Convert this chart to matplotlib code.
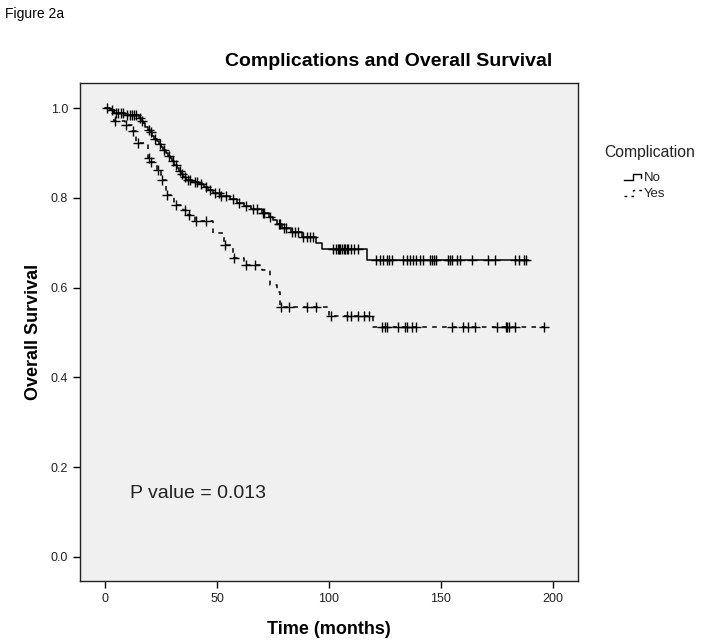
import numpy as np
import matplotlib
matplotlib.use('Agg')
import matplotlib.pyplot as plt
from matplotlib.lines import Line2D

plt.rcParams['font.family'] = ['Liberation Sans', 'DejaVu Sans']

# Kaplan-Meier steps (time in months, survival after each event)
no_event_times = [2, 4, 9, 15, 16, 17, 18, 19, 20, 21, 22, 23, 24, 25, 26, 27, 28, 29, 30,
                  31, 32, 33, 34, 35, 36, 39, 42, 44, 46, 48, 52, 56, 59, 62, 65, 70, 73,
                  75, 77, 79, 83, 88, 94, 97, 117]
no_event_surv = [0.995, 0.990, 0.985, 0.978, 0.972, 0.966, 0.958, 0.952, 0.946, 0.938,
                 0.932, 0.926, 0.920, 0.913, 0.907, 0.900, 0.894, 0.888, 0.881, 0.874,
                 0.866, 0.860, 0.853, 0.846, 0.840, 0.835, 0.830, 0.823, 0.817, 0.811,
                 0.804, 0.797, 0.789, 0.781, 0.774, 0.767, 0.758, 0.750, 0.741, 0.733,
                 0.724, 0.713, 0.700, 0.686, 0.661]
no_censor_times = [1, 3, 5, 6, 7, 8, 10, 11, 12, 13, 14, 15.5, 16.5, 19.5, 20.5, 22.5, 24.5,
                   26.5, 28.5, 30.5, 31.5, 33.5, 34.5, 35.5, 37, 38, 40, 41, 43, 45, 47, 49,
                   51, 52, 54, 57, 60, 63, 66, 68, 70.5, 71, 73.5, 77.5, 78, 80, 81, 83.5,
                   85, 86, 88.5, 90, 91.5, 93, 102, 103, 104, 104.5, 105, 106, 106.7, 107,
                   108, 108.5, 110, 111, 113, 121, 123, 124, 126, 127, 128, 133, 135, 136,
                   137.5, 139, 140.6, 142, 145, 146, 147, 148, 153, 154, 155, 157, 158.5,
                   164, 171, 174, 183, 185, 187, 188]
no_end_time = 189

yes_event_times = [4, 9, 12, 14, 19, 20, 23, 25, 27, 31, 35, 37, 40, 48, 53, 57, 62, 70,
                   73.5, 77, 78, 100, 119.5]
yes_event_surv = [0.970, 0.963, 0.948, 0.922, 0.889, 0.880, 0.862, 0.840, 0.806, 0.784,
                  0.773, 0.762, 0.749, 0.722, 0.695, 0.666, 0.650, 0.639, 0.606, 0.590,
                  0.557, 0.537, 0.512]
yes_censor_times = [4.5, 9.5, 12.5, 14.5, 19.5, 20.5, 23.5, 25.5, 27.5, 31.5, 35.5, 37.5,
                    40.5, 45, 53.5, 57.5, 63, 67, 78.5, 82, 90, 94, 101, 108, 109.8, 113,
                    115.6, 117.8, 123.7, 125, 126, 131, 134, 135, 137, 138.8, 155, 160,
                    162, 165, 175, 179, 179.5, 180.4, 183, 196]
yes_end_time = 196


def km_curve(event_t, event_s, end_t):
    t = np.concatenate([[0], event_t, [end_t]])
    s = np.concatenate([[1.0], event_s, [event_s[-1]]])
    return t, s


def censor_points(event_t, event_s, censor_t):
    ev_t = np.asarray(event_t)
    ev_s = np.concatenate([[1.0], event_s])
    idx = np.searchsorted(ev_t, censor_t, side='right')
    return np.asarray(censor_t), ev_s[idx]


fig = plt.figure(figsize=(7.01, 6.44), dpi=100)
ax = fig.add_axes([0.1141, 0.0978, 0.7104, 0.7733])
ax.set_facecolor('#f0f0f0')

groups = [
    ('No', no_event_times, no_event_surv, no_censor_times, no_end_time, '-'),
    ('Yes', yes_event_times, yes_event_surv, yes_censor_times, yes_end_time, (0, (3, 3.5))),
]
for name, et, es, ct, end, ls in groups:
    t, s = km_curve(et, es, end)
    ax.step(t, s, where='post', color='black', lw=1.1, linestyle=ls)
    cx, cy = censor_points(et, es, ct)
    ax.plot(cx, cy, linestyle='none', marker='+', color='black',
            markersize=7, markeredgewidth=1.0)

ax.set_xlim(-11.2, 211.2)
ax.set_ylim(-0.0535, 1.0557)
ax.set_xticks([0, 50, 100, 150, 200])
ax.set_yticks([0.0, 0.2, 0.4, 0.6, 0.8, 1.0])
ax.set_yticklabels(['0.0', '0.2', '0.4', '0.6', '0.8', '1.0'])
ax.tick_params(direction='out', length=5, width=1, labelsize=9, labelcolor='#222222')
for sp in ax.spines.values():
    sp.set_linewidth(1.0)
    sp.set_color('#222222')

ax.set_xlabel('Time (months)', fontsize=13, fontweight='bold', labelpad=12)
ax.set_ylabel('Overall Survival', fontsize=13, fontweight='bold', labelpad=6)
fig.text(389 / 701, 1 - 62 / 644, 'Complications and Overall Survival',
         fontsize=14, fontweight='bold', ha='center', va='center')
fig.text(5 / 701, 1 - 14 / 644, 'Figure 2a', fontsize=10, ha='left', va='center')

ax.text(11.2, 0.142, 'P value = 0.013', fontsize=14, ha='left', va='center', color='#222222')

# legend drawn by hand, like SPSS
def px(x, y):
    return x / 701, 1 - y / 644

fig.text(*px(650, 153), 'Complication', fontsize=11.3, ha='center', va='center', color='#222222')
xs, ys = zip(px(624, 180), px(633, 180), px(633, 174), px(641, 174), px(641, 178))
fig.add_artist(Line2D(xs, ys, color='black', lw=1.0))
xs, ys = zip(px(624, 196), px(633, 196), px(633, 190), px(641, 190), px(641, 194))
fig.add_artist(Line2D(xs, ys, color='black', lw=1.0, linestyle=(0, (2, 3))))
fig.text(*px(644, 178), 'No', fontsize=9.5, ha='left', va='center', color='#222222')
fig.text(*px(644, 194), 'Yes', fontsize=9.5, ha='left', va='center', color='#222222')

fig.savefig('out.png', dpi=100)
